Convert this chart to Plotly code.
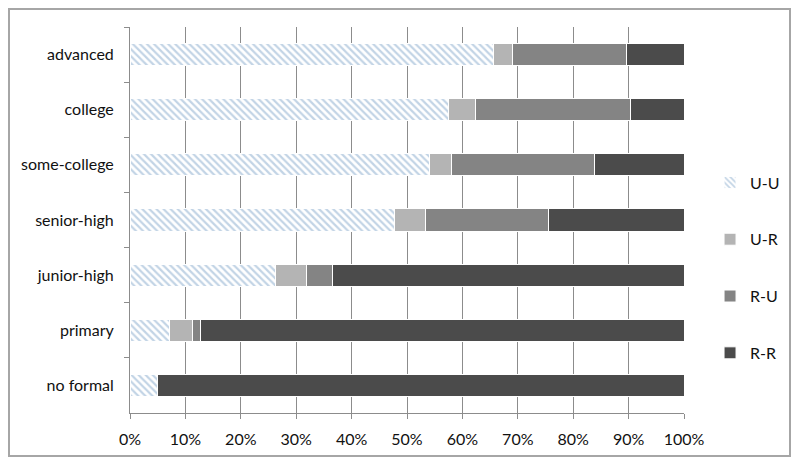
import plotly.graph_objects as go

categories = ["advanced", "college", "some-college", "senior-high", "junior-high", "primary", "no formal"]
series_names = ["U-U", "U-R", "R-U", "R-R"]
uu = [65.7, 57.5, 54.0, 47.7, 26.2, 7.2, 5.0]
ur = [3.4, 4.9, 4.1, 5.7, 5.6, 4.1, 0.0]
ru = [20.6, 27.9, 25.8, 22.2, 4.7, 1.5, 0.0]
rr = [10.3, 9.7, 16.1, 24.4, 63.5, 87.2, 95.0]
tick_vals = [0, 10, 20, 30, 40, 50, 60, 70, 80, 90, 100]
tick_text = [f"{v}%" for v in tick_vals]

colors = ["#ffffff", "#b4b4b4", "#848484", "#4b4b4b"]
values = [uu, ur, ru, rr]

fig = go.Figure()
for i, (name, vals) in enumerate(zip(series_names, values)):
    marker = dict(color=colors[i], line=dict(color="#ffffff", width=1))
    if i == 0:
        marker["pattern"] = dict(shape="\\", fgcolor="#86a9cc", bgcolor="#ffffff",
                                 size=5, solidity=0.45, fillmode="overlay")
    fig.add_trace(go.Bar(
        y=categories, x=vals, name=name, orientation="h",
        marker=marker, legendgroup=name,
    ))

fig.update_layout(
    barmode="stack",
    bargap=0.6,
    width=800, height=468,
    margin=dict(l=122, r=124, t=19, b=63),
    paper_bgcolor="#ffffff",
    plot_bgcolor="#ffffff",
    font=dict(family="Lato, Open Sans, sans-serif", size=16, color="#111111"),
    legend=dict(
        x=1.047, y=0.3756, xanchor="left", yanchor="middle",
        traceorder="grouped", tracegroupgap=33,
        font=dict(size=16), itemwidth=30,
    ),
    xaxis=dict(
        range=[0, 100], tickvals=tick_vals, ticktext=tick_text,
        showgrid=True, gridcolor="#8c8c8c", gridwidth=1,
        showline=True, linecolor="#8c8c8c", linewidth=1,
        ticks="outside", ticklen=5, tickcolor="#8c8c8c",
        ticklabelstandoff=7,
        zeroline=False, fixedrange=True,
    ),
    yaxis=dict(
        categoryorder="array", categoryarray=categories, autorange="reversed",
        showline=True, linecolor="#8c8c8c", linewidth=1,
        ticks="outside", ticklen=5, tickcolor="#8c8c8c", tickson="boundaries",
        showgrid=False, ticklabelstandoff=12,
    ),
)

# outer frame
fig.add_shape(type="rect", xref="paper", yref="paper",
              x0=(1 - 122) / 554, x1=(782 - 122) / 554,
              y0=(405 - 448) / 386, y1=(405 - 1) / 386,
              line=dict(color="#a6a6a6", width=2), fillcolor="rgba(0,0,0,0)", layer="below")

fig.write_html("out.html")
